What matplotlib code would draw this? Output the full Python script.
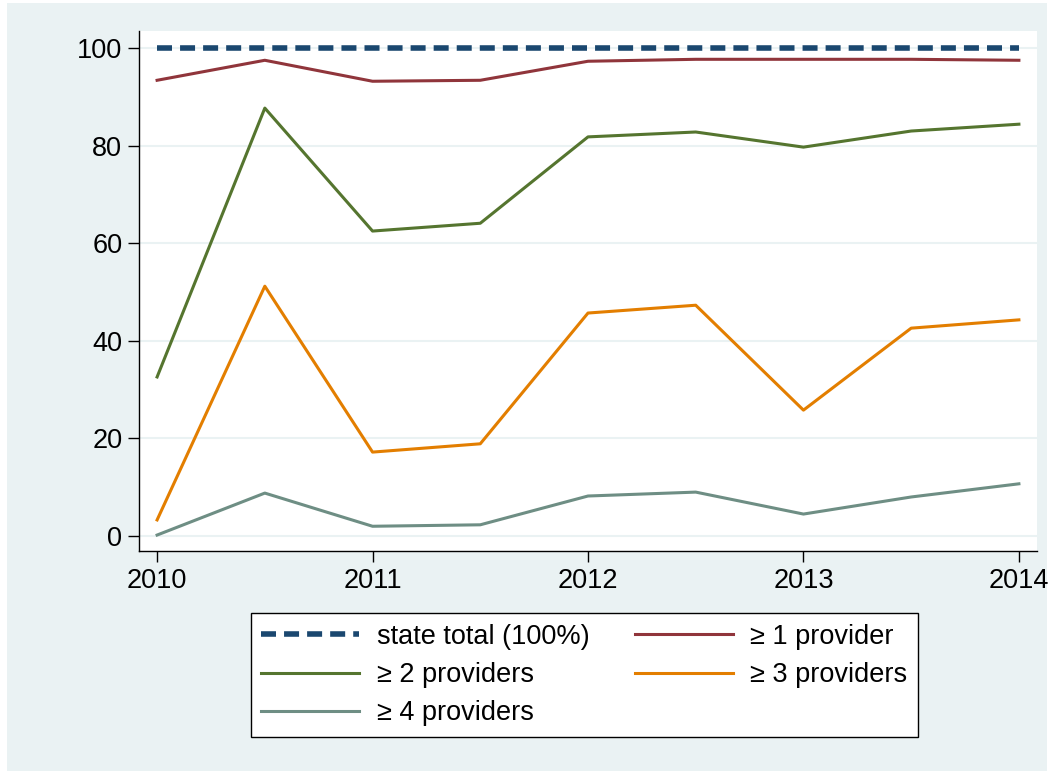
import matplotlib
matplotlib.use("Agg")
import matplotlib.pyplot as plt
from matplotlib.patches import Rectangle

plt.rcParams['font.family'] = ['Liberation Sans', 'DejaVu Sans']

periods = [2010, 2010.5, 2011, 2011.5, 2012, 2012.5, 2013, 2013.5, 2014]
state_total = [100, 100, 100, 100, 100, 100, 100, 100, 100]
ge1 = [93.4, 97.5, 93.2, 93.4, 97.3, 97.7, 97.7, 97.7, 97.5]
ge2 = [32.6, 87.7, 62.5, 64.1, 81.8, 82.8, 79.7, 83.0, 84.4]
ge3 = [3.3, 51.2, 17.2, 18.9, 45.7, 47.3, 25.8, 42.6, 44.3]
ge4 = [0.2, 8.8, 2.0, 2.3, 8.2, 9.0, 4.5, 8.0, 10.7]
labels = ["state total (100%)", "≥ 1 provider", "≥ 2 providers", "≥ 3 providers", "≥ 4 providers"]
xticks = [2010, 2011, 2012, 2013, 2014]
yticks = [0, 20, 40, 60, 80, 100]

W, H = 1054, 774
fig = plt.figure(figsize=(W / 100, H / 100), dpi=100, facecolor='white')
bgc = '#EAF2F3'
fig.patches.append(Rectangle((7 / W, 3 / H), (1047 - 7) / W, (771 - 3) / H,
                             transform=fig.transFigure, facecolor=bgc, edgecolor='none', zorder=-10))

ax = fig.add_axes([139 / W, 1 - 551 / H, (1037 - 139) / W, (551 - 31) / H])
ax.set_facecolor('white')

lw = 2.2
h0, = ax.plot(periods, state_total, color='#1a476f', lw=4.0, dashes=(2.7, 1.45), label=labels[0], zorder=5)
h1, = ax.plot(periods, ge1, color='#90353b', lw=lw, label=labels[1], zorder=4)
h2, = ax.plot(periods, ge2, color='#55752f', lw=lw, label=labels[2], zorder=4)
h3, = ax.plot(periods, ge3, color='#e37e00', lw=lw, label=labels[3], zorder=4)
h4, = ax.plot(periods, ge4, color='#6e8e84', lw=lw, label=labels[4], zorder=4)

ax.set_xlim(2009.916, 2014.084)
ax.set_ylim(-3.07, 103.5)
ax.set_xticks(xticks)
ax.set_yticks(yticks)
ax.set_xticklabels([str(t) for t in xticks])
ax.set_yticklabels([str(t) for t in yticks])
ax.tick_params(axis='both', direction='out', length=8, width=1, labelsize=19.5, pad=4)
ax.grid(axis='y', color=bgc, lw=1.5)
ax.set_axisbelow(True)
for s in ['top', 'right']:
    ax.spines[s].set_visible(False)
for s in ['left', 'bottom']:
    ax.spines[s].set_linewidth(1.0)
    ax.spines[s].set_color('black')

# row-major order: matplotlib fills columns first
order = [0, 2, 4, 1, 3]
handles = [h0, h1, h2, h3, h4]
leg = fig.legend([handles[i] for i in order], [labels[i] for i in order], ncol=2, loc='upper center',
                 bbox_to_anchor=(584.5 / W, 1 - 613 / H), fontsize=19.5,
                 frameon=True, fancybox=False, edgecolor='black', facecolor='white', framealpha=1,
                 handlelength=3.6, handletextpad=0.65, columnspacing=1.7,
                 labelspacing=0.45, borderpad=0.4, borderaxespad=0)
leg.get_frame().set_linewidth(1.0)
leg.set_zorder(20)

fig.savefig('out.png', dpi=100, facecolor='white')
